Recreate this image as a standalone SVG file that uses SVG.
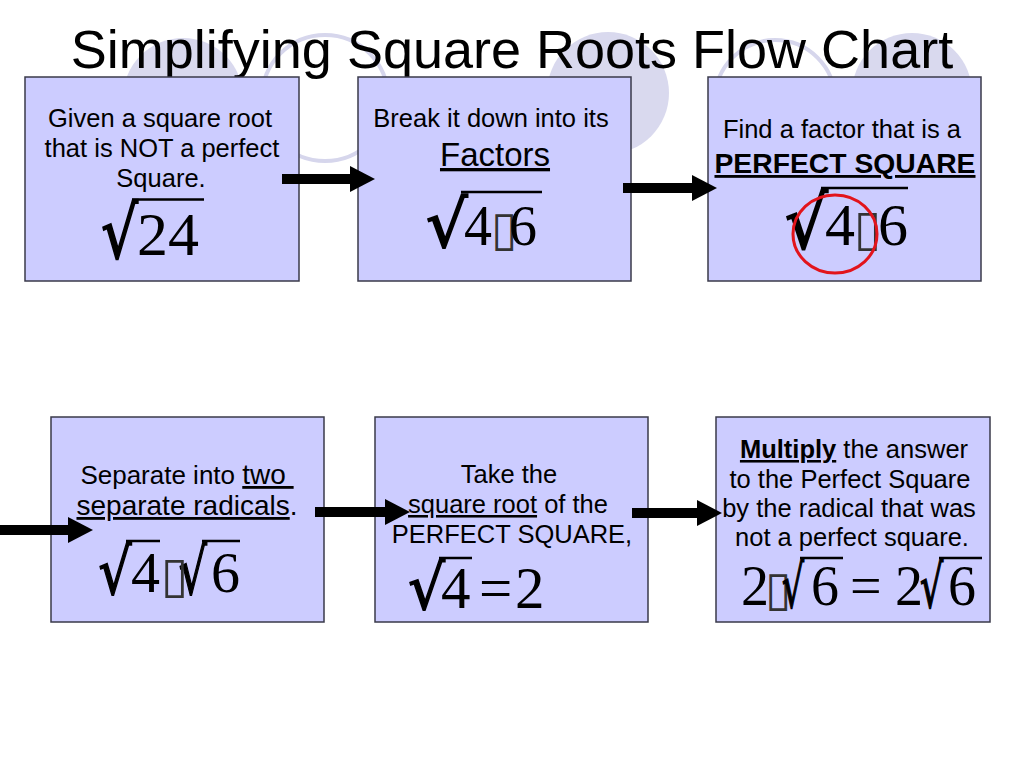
<svg xmlns="http://www.w3.org/2000/svg" width="1024" height="768" viewBox="0 0 1024 768">
<defs>
<style>
.bg{fill:#D9D9EE}
.ring{fill:none;stroke:#D6D6EC;stroke-width:4}
.box{fill:#CCCCFF;stroke:#3A3A4A;stroke-width:1.5}
.t{font-family:"Liberation Sans",Arial,sans-serif;font-size:25.5px;fill:#000;text-anchor:middle}
.m{font-family:"Liberation Serif","Times New Roman",serif;fill:#000}
.rad{font-family:"DejaVu Serif","Liberation Serif",serif;font-size:100px;fill:#000;stroke:#000;stroke-width:2.5}
.tofu{font-family:"DejaVu Sans",sans-serif;fill:#333}
.vin{stroke:#000;stroke-width:2.5}
.u{text-decoration:underline}
.arrow{stroke:#000;stroke-width:10;fill:none;marker-end:url(#head)}
</style>
<marker id="head" viewBox="0 0 25 26" refX="0" refY="13" markerWidth="25" markerHeight="26" markerUnits="userSpaceOnUse" orient="auto">
<path d="M0,0 L25,13 L0,26 Z" fill="#000"/>
</marker>
</defs>
<rect width="1024" height="768" fill="#fff"/>
<g id="background">
<circle class="bg" cx="183" cy="98" r="60"/>
<circle class="ring" cx="325" cy="98" r="63"/>
<circle class="bg" cx="608" cy="93" r="61"/>
<circle class="ring" cx="775" cy="100" r="60"/>
<circle class="bg" cx="912" cy="93" r="60"/>
</g>
<text id="title" x="512" y="68" font-family="Liberation Sans,Arial,sans-serif" font-size="54" text-anchor="middle">Simplifying Square Roots Flow Chart</text>

<g id="node1">
<rect class="box" x="25" y="77" width="274" height="204"/>
<text class="t" x="160" y="127">Given a square root</text>
<text class="t" x="162" y="157">that is NOT a perfect</text>
<text class="t" x="161" y="187">Square.</text>
<text class="rad" transform="translate(101.3,258.4) scale(0.577,0.719)">√</text>
<line class="vin" x1="132" y1="199.5" x2="204" y2="199.5"/>
<text class="m" x="137" y="255" font-size="62">24</text>
</g>

<g id="node2">
<rect class="box" x="358" y="77" width="273" height="204"/>
<text class="t" x="491" y="127">Break it down into its</text>
<text class="t u" x="495" y="166" style="font-size:33px">Factors</text>
<text class="rad" transform="translate(426,246.7) scale(0.654,0.652)">√</text>
<line class="vin" x1="461" y1="192" x2="542" y2="192"/>
<text class="m" y="245" font-size="56"><tspan x="464">4</tspan><tspan class="tofu" x="491" font-size="48">▯</tspan><tspan x="509">6</tspan></text>
</g>

<g id="node3">
<rect class="box" x="708" y="77" width="273" height="204"/>
<text class="t" x="842" y="138">Find a factor that is a</text>
<text class="t u" x="845" y="173" style="font-size:28.3px" font-weight="bold">PERFECT SQUARE</text>
<text class="rad" transform="translate(785,248.4) scale(0.673,0.73)">√</text>
<line class="vin" x1="821" y1="188" x2="908" y2="188"/>
<text class="m" y="245" font-size="60"><tspan x="825">4</tspan><tspan class="tofu" x="854" font-size="50">▯</tspan><tspan x="878">6</tspan></text>
<ellipse cx="835" cy="234" rx="42" ry="39" fill="none" stroke="#E2141C" stroke-width="3"/>
</g>

<g id="node4">
<rect class="box" x="51" y="417" width="273" height="205"/>
<text class="t" x="187" y="484" xml:space="preserve"><tspan font-size="26">Separate into </tspan><tspan class="u" font-size="28">two </tspan></text>
<text class="t" x="187" y="515"><tspan class="u" font-size="28">separate radicals</tspan><tspan font-size="28">.</tspan></text>
<text class="rad" transform="translate(98.4,593.8) scale(0.519,0.64)">√</text>
<line class="vin" x1="126" y1="541" x2="160" y2="541"/>
<text class="rad" transform="translate(178.7,593.8) scale(0.442,0.64)">√</text>
<line class="vin" x1="202" y1="541" x2="240" y2="541"/>
<text class="m" y="592" font-size="58"><tspan x="131">4</tspan><tspan class="tofu" x="161" font-size="50">▯</tspan><tspan x="211">6</tspan></text>
</g>

<g id="node5">
<rect class="box" x="375" y="417" width="273" height="205"/>
<text class="t" x="509" y="483">Take the</text>
<text class="t" x="508" y="513"><tspan class="u">square root</tspan> of the</text>
<text class="t" x="512" y="543">PERFECT SQUARE,</text>
<text class="rad" transform="translate(408.3,608.9) scale(0.577,0.618)">√</text>
<line class="vin" x1="439" y1="558" x2="472" y2="558"/>
<text class="m" y="608" font-size="59"><tspan x="441">4</tspan><tspan x="479">=</tspan><tspan x="515">2</tspan></text>
</g>

<g id="node6">
<rect class="box" x="716" y="417" width="274" height="205"/>
<text class="t" x="854" y="458"><tspan class="u" font-weight="bold">Multiply</tspan> the answer</text>
<text class="t" x="850" y="488">to the Perfect Square</text>
<text class="t" x="849" y="517">by the radical that was</text>
<text class="t" x="852" y="546">not a perfect square.</text>
<text class="m" y="605" font-size="56"><tspan x="741">2</tspan><tspan class="tofu" x="765" font-size="48">▯</tspan><tspan x="811">6</tspan><tspan x="850">=</tspan><tspan x="895">2</tspan><tspan x="948">6</tspan></text>
<text class="rad" transform="translate(782,607) scale(0.346,0.596)">√</text>
<line class="vin" x1="800" y1="558" x2="843" y2="558"/>
<text class="rad" transform="translate(920,607) scale(0.365,0.596)">√</text>
<line class="vin" x1="939" y1="558" x2="982" y2="558"/>
</g>

<g id="connectors">
<line class="arrow" x1="282" y1="179" x2="350" y2="179"/>
<line class="arrow" x1="623" y1="188" x2="692" y2="188"/>
<line class="arrow" x1="0" y1="530" x2="68" y2="530"/>
<line class="arrow" x1="315" y1="512" x2="385" y2="512"/>
<line class="arrow" x1="632" y1="513" x2="697" y2="513"/>
</g>
</svg>
